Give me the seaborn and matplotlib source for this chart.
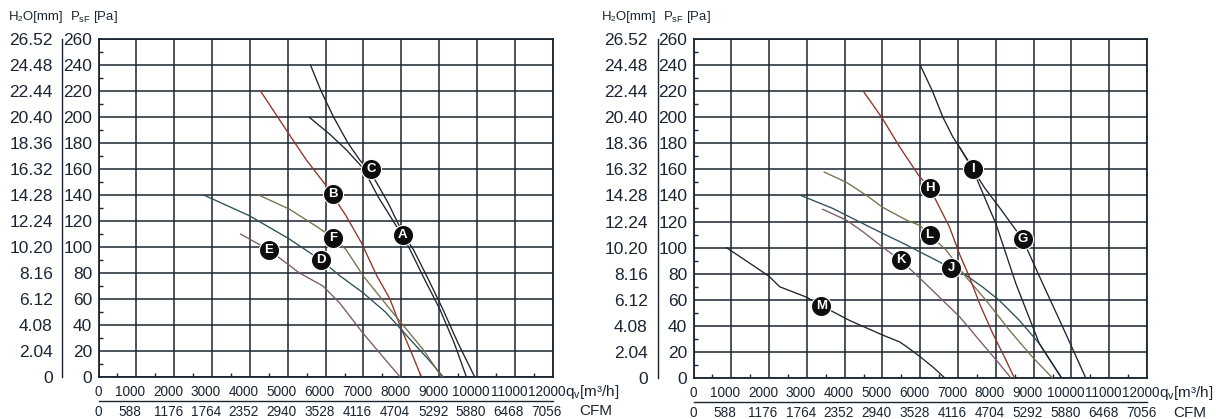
import matplotlib
matplotlib.use("Agg")
import matplotlib.pyplot as plt
from matplotlib.transforms import ScaledTranslation
import seaborn as sns

# axis ticks / labels
q_ticks = list(range(0, 13000, 1000))
q_labels = [str(v) for v in q_ticks]
cfm_labels = ["0", "588", "1176", "1764", "2352", "2940", "3528", "4116",
              "4704", "5292", "5880", "6468", "7056"]
pa_ticks = list(range(0, 280, 20))
h2o_labels = ["0", "2.04", "4.08", "6.12", "8.16", "10.20", "12.24", "14.28",
              "16.32", "18.36", "20.40", "22.44", "24.48", "26.52"]

# left panel curves (q [m3/h], p [Pa])
a_x = [5560, 6100, 6540, 6980, 7400, 8000, 8230, 8600, 9020, 9400, 9720]
a_y = [200, 187, 175, 161, 138, 110, 98, 76, 52, 26, 0]
c_x = [5600, 5880, 6210, 6590, 6900, 7220, 7650, 8050, 8320, 8700, 9100, 9500, 9940]
c_y = [240, 220, 200, 180, 167, 156, 134, 110, 98, 76, 52, 26, 0]
b_x = [4280, 4960, 5490, 6020, 6540, 6950, 7350, 7700, 7960, 8250, 8530]
b_y = [220, 190, 167, 147, 124, 103, 78, 60, 40, 20, 0]
d_x = [2780, 3990, 5050, 5870, 6370, 6980, 7580, 8230, 8700, 9110]
d_y = [140, 124, 106, 90, 78, 65, 50, 29, 14, 0]
f_x = [4230, 5050, 5750, 6200, 6540, 7000, 7790, 8580, 9070]
f_y = [140, 129, 116, 107, 98, 77.5, 49, 21, 0]
e_x = [3750, 4490, 5310, 5930, 6370, 6980, 7500, 7970]
e_y = [110, 98, 80, 70, 57, 34, 16, 0]

# right panel curves
m_x = [870, 1490, 2000, 2280, 2990, 3380, 4140, 5000, 5460, 5640, 5990, 6350, 6650]
m_y = [100, 88, 78, 70, 62, 55.5, 44, 33, 27.6, 24, 16.5, 8, 0]
k_x = [3410, 4050, 4490, 5000, 5490, 5900, 6330, 7040, 7650, 8090, 8400]
k_y = [129.5, 121, 112, 100.5, 90, 79, 67, 47, 26, 11, 0]
j_x = [2840, 3690, 4580, 5000, 5640, 5990, 6510, 6820, 7210, 7650, 8090, 8620, 9150, 9740]
j_y = [140, 130, 117, 111, 102, 96.7, 89, 84, 78.8, 69.8, 59.6, 44.3, 26.4, 0]
l_x = [3455, 4050, 4580, 5000, 5640, 5990, 6250, 6690, 7210, 7740, 8360, 8970, 9500]
l_y = [158, 150, 140, 131, 121, 117, 109.5, 98, 77.5, 59.6, 36.6, 16, 0]
h_x = [4505, 5000, 5460, 5990, 6260, 6420, 6770, 7040, 7300, 7570, 7920, 8270, 8490]
h_y = [219.5, 199, 177, 154, 146, 136, 116, 95, 77.5, 57, 34, 13.6, 0]
i_x = [6000, 6330, 6600, 6860, 7040, 7260, 7390, 7740, 8000, 8530, 9150, 9740]
i_y = [240, 219.5, 200, 185, 177, 167, 160, 136, 118.5, 72.4, 26.4, 0]
g_x = [7040, 7390, 7700, 8090, 8710, 9240, 9850, 10380]
g_y = [177, 160, 146, 131, 106.4, 72.4, 34, 0]

# curve label badges
left_tags = ["A", "B", "C", "D", "E", "F"]
left_tag_x = [8035, 6190, 7200, 5866, 4494, 6190]
left_tag_y = [109.5, 140.7, 160, 90, 98, 107]
right_tags = ["G", "H", "I", "J", "K", "L", "M"]
right_tag_x = [8708, 6264, 7389, 6818, 5486, 6246, 3384]
right_tag_y = [106.4, 146, 160, 84, 90.3, 109.5, 55.3]

ink = "#1b2532"
black_c = "#1e252d"
red_c = "#8e3526"
teal_c = "#2b4f55"
olive_c = "#76704c"
mauve_c = "#7b5a68"

sns.set_theme(style="white")
plt.rcParams["font.family"] = ["Liberation Sans", "DejaVu Sans"]
plt.rcParams["mathtext.fontset"] = "custom"
plt.rcParams["mathtext.rm"] = "Liberation Sans"
plt.rcParams["mathtext.it"] = "Liberation Sans:italic"

fig = plt.figure(figsize=(12.16, 4.19), dpi=100)
W, H = 1216, 419
ax_l = fig.add_axes([98.5 / W, 42 / H, 454.2 / W, 338 / H])
ax_r = fig.add_axes([693.5 / W, 41 / H, 453.5 / W, 339 / H])

left_curves = [(a_x, a_y, black_c), (c_x, c_y, black_c), (b_x, b_y, red_c),
               (d_x, d_y, teal_c), (f_x, f_y, olive_c), (e_x, e_y, mauve_c)]
right_curves = [(m_x, m_y, black_c), (k_x, k_y, mauve_c), (j_x, j_y, teal_c),
                (l_x, l_y, olive_c), (h_x, h_y, red_c), (i_x, i_y, black_c),
                (g_x, g_y, black_c)]

panels = [(ax_l, left_curves, left_tags, left_tag_x, left_tag_y),
          (ax_r, right_curves, right_tags, right_tag_x, right_tag_y)]

shift = ScaledTranslation(-6 / 100, 0, fig.dpi_scale_trans)

for ax, curves, tags, tx, ty in panels:
    for cx, cy, col in curves:
        sns.lineplot(x=cx, y=cy, ax=ax, color=col, lw=0.95, sort=False,
                     estimator=None, zorder=3)
    sns.scatterplot(x=tx, y=ty, ax=ax, s=210, color="#0d0d0d",
                    edgecolor="white", linewidth=0.8, zorder=5, legend=False)
    for t, x, y in zip(tags, tx, ty):
        ax.text(x, y, t, color="white", fontsize=9.5, fontweight="bold",
                ha="center", va="center", zorder=6)

    ax.set_xlim(0, 12000)
    ax.set_ylim(0, 260)
    ax.set_xticks(q_ticks, labels=q_labels)
    ax.set_yticks(pa_ticks, labels=[str(v) for v in pa_ticks])
    ax.set_xticks(range(500, 12000, 1000), minor=True)
    ax.set_yticks(range(10, 260, 20), minor=True)
    ax.grid(True, which="major", color=ink, lw=1.1)
    ax.set_axisbelow(True)
    ax.tick_params(which="major", length=0, colors=ink)
    ax.tick_params(axis="x", which="major", labelsize=9.8, pad=6)
    ax.tick_params(axis="y", which="major", labelsize=12.5, pad=4.5)
    ax.tick_params(which="minor", direction="in", length=3, width=1,
                   color=ink, bottom=True, left=True)
    for sp in ax.spines.values():
        sp.set_color(ink)
        sp.set_linewidth(1.3)
    ax.set_xlabel("")
    ax.set_ylabel("")
    for lab in ax.get_xticklabels()[1:]:
        lab.set_transform(lab.get_transform() + shift)

    # H2O column
    sec_y = ax.secondary_yaxis(-36 / 454)
    sec_y.set_yticks(pa_ticks, labels=h2o_labels)
    sec_y.tick_params(length=0, pad=7, labelsize=12.5, colors=ink)
    sec_y.spines["left"].set_color(ink)
    sec_y.spines["left"].set_linewidth(1.0)

    # CFM row
    sec_x = ax.secondary_xaxis(-24 / 338)
    sec_x.set_xticks(q_ticks, labels=cfm_labels)
    sec_x.tick_params(length=0, pad=3, labelsize=9.8, colors=ink)
    sec_x.spines["bottom"].set_color(ink)
    sec_x.spines["bottom"].set_linewidth(1.0)
    for lab in sec_x.get_xticklabels()[1:]:
        lab.set_transform(lab.get_transform() + shift)

    ax.text(1.027, -0.043, "q$_\\mathrm{v}$[m³/h]", transform=ax.transAxes,
            fontsize=11, color=ink, ha="left", va="center")
    ax.text(1.058, -0.102, "CFM", transform=ax.transAxes,
            fontsize=11, color=ink, ha="left", va="center")

for x0 in (9, 602):
    fig.text(x0 / W, 1 - 17 / H, "H₂O[mm]", fontsize=9.5, color=ink,
             ha="left", va="center", family=["Liberation Sans", "DejaVu Sans"])
    fig.text((x0 + 61) / W, 1 - 17 / H, "P$_\\mathrm{sF}$ [Pa]", fontsize=9.5,
             color=ink, ha="left", va="center")

fig.savefig("out.png", dpi=100, facecolor="white")
